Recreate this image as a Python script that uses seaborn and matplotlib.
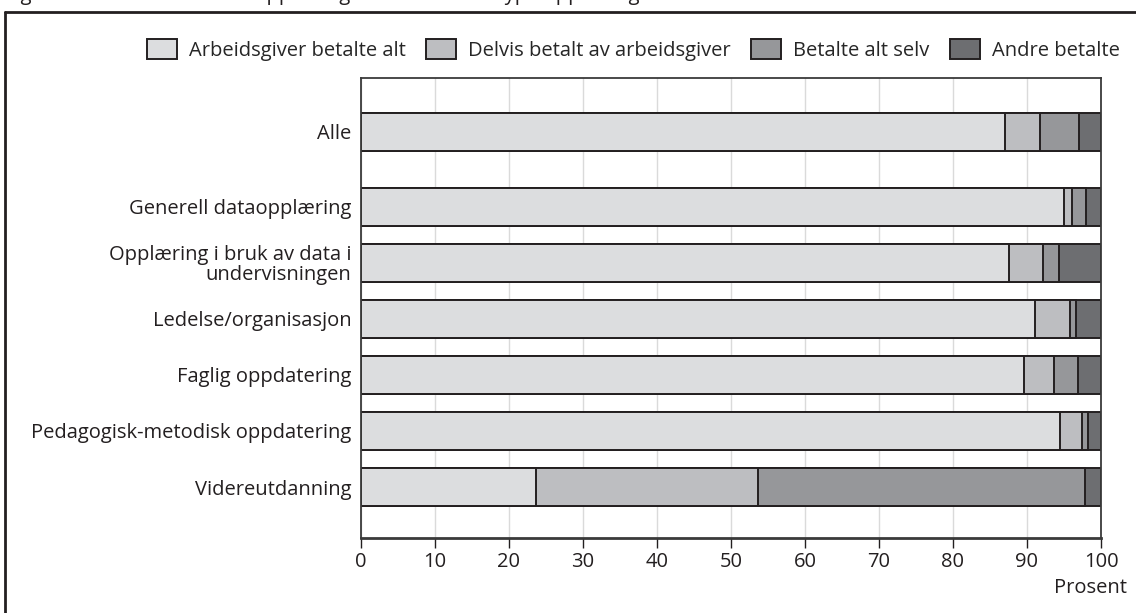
import matplotlib
matplotlib.use("Agg")
import matplotlib.pyplot as plt
import numpy as np
import pandas as pd
import seaborn as sns
from matplotlib.lines import Line2D
from matplotlib.patches import Patch

# Data (percent).
categories = [
    "Alle",
    "Generell dataopplæring",
    "Opplæring i bruk av data i\nundervisningen",
    "Ledelse/organisasjon",
    "Faglig oppdatering",
    "Pedagogisk-metodisk oppdatering",
    "Videreutdanning",
]
arbeidsgiver_alt = [87.0, 95.0, 87.5, 91.1, 89.6, 94.5, 23.6]
delvis_arbeidsgiver = [4.8, 1.1, 4.6, 4.7, 4.1, 2.9, 30.1]
betalte_selv = [5.2, 1.9, 2.2, 0.8, 3.2, 0.8, 44.1]
andre_betalte = [3.0, 2.0, 5.7, 3.4, 3.1, 1.8, 2.2]

series_names = [
    "Arbeidsgiver betalte alt",
    "Delvis betalt av arbeidsgiver",
    "Betalte alt selv",
    "Andre betalte",
]
series_values = [arbeidsgiver_alt, delvis_arbeidsgiver, betalte_selv, andre_betalte]
colors = ["#dcdddf", "#bdbec1", "#96979a", "#6d6e71"]
EDGE = "#231f20"
FS = 14.5

# "Alle" sits a bit apart from the course types.
positions = [0.0] + [1.34 + i for i in range(len(categories) - 1)]

sns.set_theme(style="white")
plt.rcParams["font.family"] = ["Open Sans", "DejaVu Sans"]

fig = plt.figure(figsize=(11.36, 6.13), dpi=100)
ax = fig.add_axes([361 / 1136, 1 - 538 / 613, 740 / 1136, 460 / 613])

# Stacked bars: draw cumulative totals from the right-most segment back.
cumulative = np.cumsum(np.array(series_values), axis=0)
for k in reversed(range(len(series_names))):
    df = pd.DataFrame({"pos": positions, "value": cumulative[k]})
    sns.barplot(
        data=df,
        x="value",
        y="pos",
        orient="y",
        native_scale=True,
        width=0.68,
        color=colors[k],
        saturation=1,
        edgecolor=EDGE,
        linewidth=1.4,
        ax=ax,
    )

ax.set_xlim(0, 100)
ax.set_ylim(positions[-1] + 0.91, -0.96)
ax.set_xticks(range(0, 101, 10))
ax.set_yticks(positions)
ax.set_yticklabels(categories, fontsize=FS, color="#231f20", linespacing=0.95)
ax.tick_params(axis="x", labelsize=FS, colors="#231f20", direction="out",
               length=7, width=1, pad=3, bottom=True)
ax.tick_params(axis="y", length=0, pad=7)
ax.set_xlabel("")
ax.set_ylabel("")
ax.xaxis.grid(True, color="#dadada", linewidth=1)
ax.set_axisbelow(True)
for spine in ax.spines.values():
    spine.set_visible(True)
    spine.set_color("#3a3a3a")
    spine.set_linewidth(1.3)
ax.spines["bottom"].set_linewidth(2)

handles = [Patch(facecolor=c, edgecolor=EDGE, linewidth=1.4) for c in colors]
fig.legend(
    handles,
    series_names,
    loc="center right",
    bbox_to_anchor=(1128 / 1136, 1 - 50 / 613),
    ncol=4,
    frameon=False,
    fontsize=FS,
    handlelength=1.5,
    handleheight=1.1,
    handletextpad=0.6,
    columnspacing=1.0,
    borderaxespad=0,
)

fig.text(1127 / 1136, 1 - 588 / 613, "Prosent", ha="right", va="center",
         fontsize=FS, color="#231f20")

# Figure caption sits just above the top edge; only its descenders show, as in the source.
fig.text(5 / 1136, 1.0, "Figur 7.3 Hvem betalte for opplæringen? Andel etter type opplæring",
         ha="left", va="baseline", fontsize=FS, color="#231f20")

# Outer frame (left and top edges visible).
fig.add_artist(Line2D([5 / 1136, 5 / 1136], [0, 1 - 12 / 613], transform=fig.transFigure,
                      color="#231f20", linewidth=2))
fig.add_artist(Line2D([5 / 1136, 1], [1 - 12 / 613, 1 - 12 / 613], transform=fig.transFigure,
                      color="#231f20", linewidth=2))

fig.savefig("out.png", dpi=100)
